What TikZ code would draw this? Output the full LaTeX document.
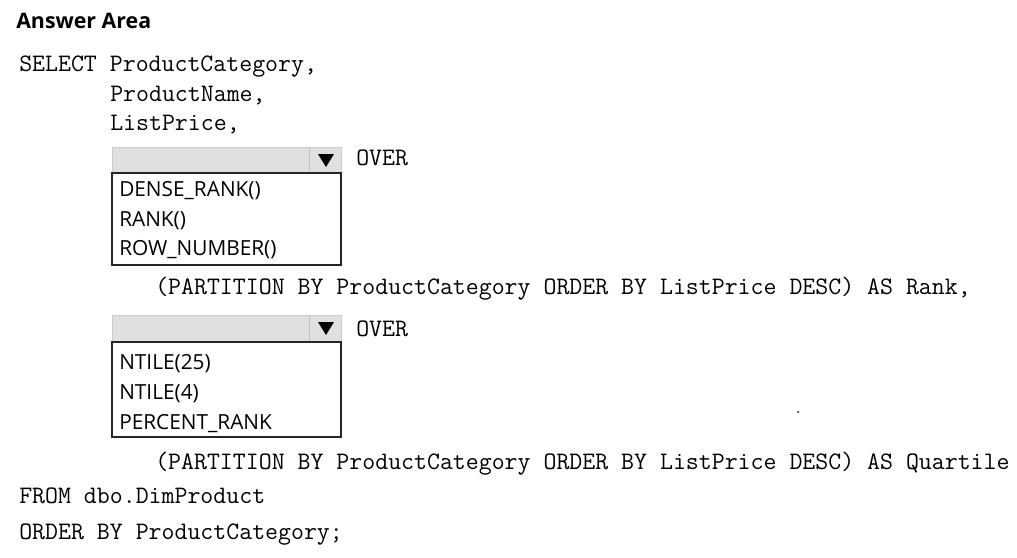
\documentclass[tikz,border=0pt]{standalone}
\usepackage{fontspec}
\setmainfont{Open Sans}

\tikzset{
  code/.style={anchor=base west,inner sep=0pt,font=\fontsize{18.85}{21}\ttfamily},
  item/.style={anchor=base west,inner sep=0pt,font=\fontsize{15.6}{18}\selectfont},
  combo/.style={draw=black!20,fill=black!12,line width=0.75pt},
  listbox/.style={draw=black!85,fill=white,line width=0.9pt},
}

\begin{document}
\begin{tikzpicture}[x=0.75pt,y=-0.75pt]
\useasboundingbox (0,0) rectangle (1017,557);

% Title
\node[anchor=base west,inner sep=0pt,font=\fontsize{16}{19}\selectfont\bfseries] (title) at (16,28) {Answer Area};

% Select list
\node[code] (sel) at (19,71) {SELECT ProductCategory,};
\node[code] (pname) at (110,101) {ProductName,};
\node[code] (lprice) at (110,130) {ListPrice,};

% First drop-down
\draw[combo] (112,147) rectangle (341,173);
\draw[black!25,line width=0.75pt] (309,147) -- (309,173);
\fill (318,154) -- (334,154) -- (326,167) -- cycle;
\node[code] (over1) at (356,165) {OVER};
\draw[listbox] (112,173) rectangle (341,265);
\node[item] (dense) at (119,196) {DENSE\_RANK()};
\node[item] (rank) at (119,226) {RANK()};
\node[item] (rownum) at (119,255) {ROW\_NUMBER()};

\node[code] (part1) at (155,294) {(PARTITION BY ProductCategory ORDER BY ListPrice DESC) AS Rank,};

% Second drop-down
\draw[combo] (112,315) rectangle (341,342);
\draw[black!25,line width=0.75pt] (309,315) -- (309,342);
\fill (318,322) -- (334,322) -- (326,335) -- cycle;
\node[code] (over2) at (356,336) {OVER};
\draw[listbox] (112,342) rectangle (341,437);
\node[item] (ntile25) at (119,369) {NTILE(25)};
\node[item] (ntile4) at (119,399) {NTILE(4)};
\node[item] (prank) at (119,429) {PERCENT\_RANK};

\fill (798,412) circle (1);

\node[code] (part2) at (155,469) {(PARTITION BY ProductCategory ORDER BY ListPrice DESC) AS Quartile};

% From / order
\node[code] (from) at (19,503) {FROM dbo.DimProduct};
\node[code] (order) at (19,539) {ORDER BY ProductCategory;};
\end{tikzpicture}
\end{document}
